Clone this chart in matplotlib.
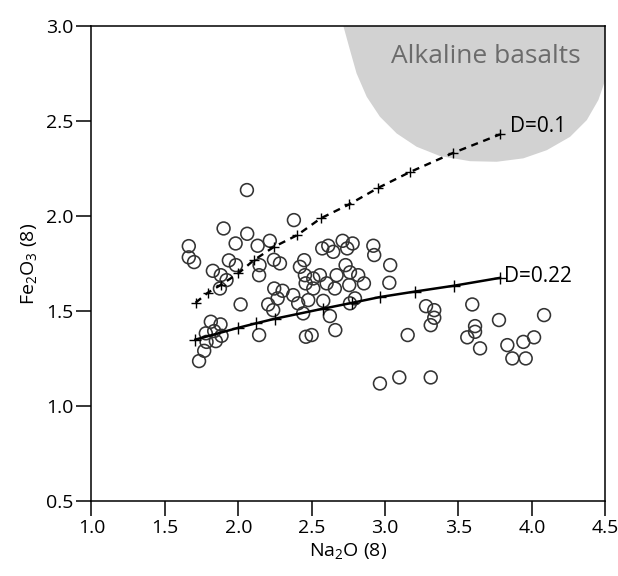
import numpy as np
import matplotlib
matplotlib.use("Agg")
import matplotlib.pyplot as plt

plt.rcParams['font.family'] = ['Open Sans', 'DejaVu Sans']
plt.rcParams['mathtext.default'] = 'regular'

# sample points Na2O(8) / Fe2O3(8)
na2o = [2.059, 1.900, 2.061, 1.982, 1.663, 1.663, 1.699, 2.132, 2.215, 1.936,
        1.984, 1.827, 1.881, 1.920, 1.875, 2.145, 2.142, 2.243, 2.284, 2.016,
        2.245, 2.302, 2.268, 2.204, 2.238, 2.379, 2.572, 2.613, 2.647, 2.711,
        2.742, 2.779, 2.920, 2.926, 2.449, 2.420, 2.731, 3.035, 2.454, 2.511,
        2.556, 2.761, 2.817, 2.670, 2.459, 2.511, 2.602, 2.658, 2.756, 2.856,
        3.029, 2.374, 2.408, 2.477, 2.579, 2.761, 2.795, 2.624, 3.279, 3.335,
        3.335, 3.311, 3.594, 3.154, 3.613, 3.613, 3.560, 3.647, 3.776, 4.083,
        3.833, 3.942, 4.015, 3.867, 3.958, 2.965, 3.097, 3.311, 1.813, 1.879,
        1.779, 1.836, 1.886, 1.847, 1.784, 1.768, 1.733, 2.142, 2.442, 2.461,
        2.500, 2.661]
fe2o3 = [2.137, 1.935, 1.907, 1.856, 1.842, 1.783, 1.758, 1.844, 1.870, 1.767,
         1.742, 1.712, 1.689, 1.663, 1.619, 1.742, 1.689, 1.770, 1.751, 1.535,
         1.619, 1.607, 1.567, 1.535, 1.505, 1.979, 1.830, 1.844, 1.812, 1.870,
         1.830, 1.856, 1.844, 1.795, 1.768, 1.733, 1.742, 1.742, 1.689, 1.672,
         1.689, 1.704, 1.689, 1.689, 1.646, 1.619, 1.646, 1.619, 1.637, 1.646,
         1.649, 1.584, 1.541, 1.558, 1.554, 1.541, 1.567, 1.474, 1.526, 1.505,
         1.465, 1.426, 1.535, 1.374, 1.421, 1.391, 1.362, 1.304, 1.453, 1.479,
         1.321, 1.338, 1.362, 1.251, 1.251, 1.119, 1.151, 1.151, 1.444, 1.430,
         1.383, 1.395, 1.370, 1.342, 1.338, 1.291, 1.237, 1.374, 1.488, 1.365,
         1.374, 1.400]

# melting trends
d01_x = [1.709, 1.791, 1.879, 1.999, 2.106, 2.243, 2.402, 2.561, 2.756, 2.954, 3.170, 3.465, 3.783]
d01_y = [1.544, 1.596, 1.637, 1.698, 1.768, 1.838, 1.900, 1.988, 2.062, 2.149, 2.232, 2.333, 2.430]
d022_x = [1.708, 1.999, 2.122, 2.250, 2.579, 2.772, 2.965, 3.204, 3.472, 3.783]
d022_y = [1.350, 1.412, 1.436, 1.460, 1.513, 1.543, 1.574, 1.603, 1.634, 1.675]

# alkaline basalt field outline
alk_x = [2.716, 2.761, 2.806, 2.875, 2.965, 3.079, 3.215, 3.374, 3.579, 3.761,
         3.942, 4.102, 4.260, 4.374, 4.453, 4.5, 4.5]
alk_y = [3.0, 2.874, 2.751, 2.628, 2.523, 2.435, 2.365, 2.316, 2.289, 2.286,
         2.304, 2.347, 2.417, 2.505, 2.611, 2.716, 3.0]

fig = plt.figure(figsize=(6.18, 5.76), dpi=100)
ax = fig.add_axes([0.148, 0.130, 0.8314, 0.8247])

ax.fill(alk_x, alk_y, color='#d2d2d2', lw=0, zorder=1)
ax.text(3.684, 2.838, 'Alkaline basalts', fontsize=19, color='#6b6b6b',
        ha='center', va='center', zorder=2)

ax.scatter(na2o, fe2o3, s=85, facecolors='none', edgecolors='#333333',
           linewidths=1.15, zorder=3)

ax.plot(d01_x, d01_y, color='black', lw=1.7, dashes=(3, 2.4), marker='+',
        ms=7, mew=1.0, zorder=4)
ax.plot(d022_x, d022_y, color='black', lw=1.8, marker='+', ms=8, mew=1.0,
        zorder=4)
ax.text(3.85, 2.47, 'D=0.1', fontsize=15, va='center', ha='left')
ax.text(3.81, 1.681, 'D=0.22', fontsize=15, va='center', ha='left')

ax.set_xlim(1.0, 4.5)
ax.set_ylim(0.5, 3.0)
ax.set_xticks(np.arange(1.0, 4.51, 0.5))
ax.set_yticks(np.arange(0.5, 3.01, 0.5))
ax.xaxis.set_major_formatter(matplotlib.ticker.FormatStrFormatter('%.1f'))
ax.yaxis.set_major_formatter(matplotlib.ticker.FormatStrFormatter('%.1f'))
ax.tick_params(direction='out', length=11, width=1.1, labelsize=14, pad=2)
for s in ax.spines.values():
    s.set_linewidth(1.1)

ax.set_xlabel('Na$_2$O (8)', fontsize=14, labelpad=3)
ax.set_ylabel('Fe$_2$O$_3$ (8)', fontsize=14, labelpad=5)

fig.savefig('out.png', dpi=100)
